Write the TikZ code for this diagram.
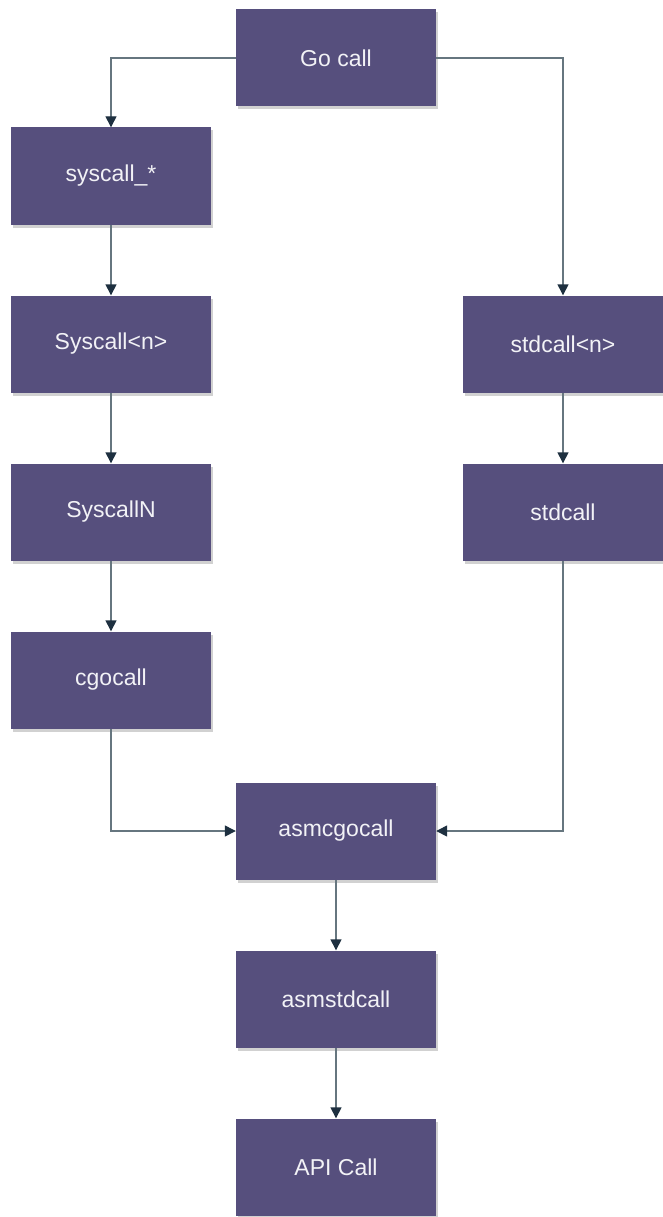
\documentclass[tikz,border=0pt]{standalone}
\usepackage{fontspec}
\setmainfont{Liberation Sans}
\usetikzlibrary{arrows.meta,shadows}
\definecolor{boxfill}{HTML}{564F7D}
\definecolor{linecol}{HTML}{66767F}
\definecolor{tipcol}{HTML}{1E3040}
\definecolor{textcol}{HTML}{F2F2F6}
\begin{document}
\begin{tikzpicture}[x=1pt,y=-1pt,
  flowbox/.style={draw=none, fill=boxfill, minimum width=200pt, minimum height=97pt,
    text=textcol, font=\fontsize{23}{27}\selectfont, inner sep=0pt,
    drop shadow={shadow xshift=2pt, shadow yshift=-3pt, opacity=0.18, fill=black}},
  conn/.style={draw=linecol, line width=1.4pt,
    -{Triangle[length=11pt,width=11pt,fill=tipcol,color=tipcol]}}]
\fill[white] (0,0) rectangle (663,1217);
\useasboundingbox (0,0) rectangle (663,1217);
\node[flowbox] (go) at (336,58) {Go call};
\node[flowbox] (sys) at (111,176) {syscall\_*};
\node[flowbox] (sysn) at (111,344) {Syscall<n>};
\node[flowbox] (sysN) at (111,512) {SyscallN};
\node[flowbox] (cgo) at (111,680) {cgocall};
\node[flowbox] (stdn) at (563,344) {stdcall<n>};
\node[flowbox] (std) at (563,512) {stdcall};
\node[flowbox] (asmcgo) at (336,831) {asmcgocall};
\node[flowbox] (asmstd) at (336,999) {asmstdcall};
\node[flowbox] (api) at (336,1167) {API Call};
\draw[conn] (go.west) -| (sys.north);
\draw[conn] (go.east) -| (stdn.north);
\draw[conn] (sys) -- (sysn);
\draw[conn] (sysn) -- (sysN);
\draw[conn] (sysN) -- (cgo);
\draw[conn] (stdn) -- (std);
\draw[conn] (cgo.south) |- (asmcgo.west);
\draw[conn] (std.south) |- (asmcgo.east);
\draw[conn] (asmcgo) -- (asmstd);
\draw[conn] (asmstd) -- (api);
\end{tikzpicture}
\end{document}
